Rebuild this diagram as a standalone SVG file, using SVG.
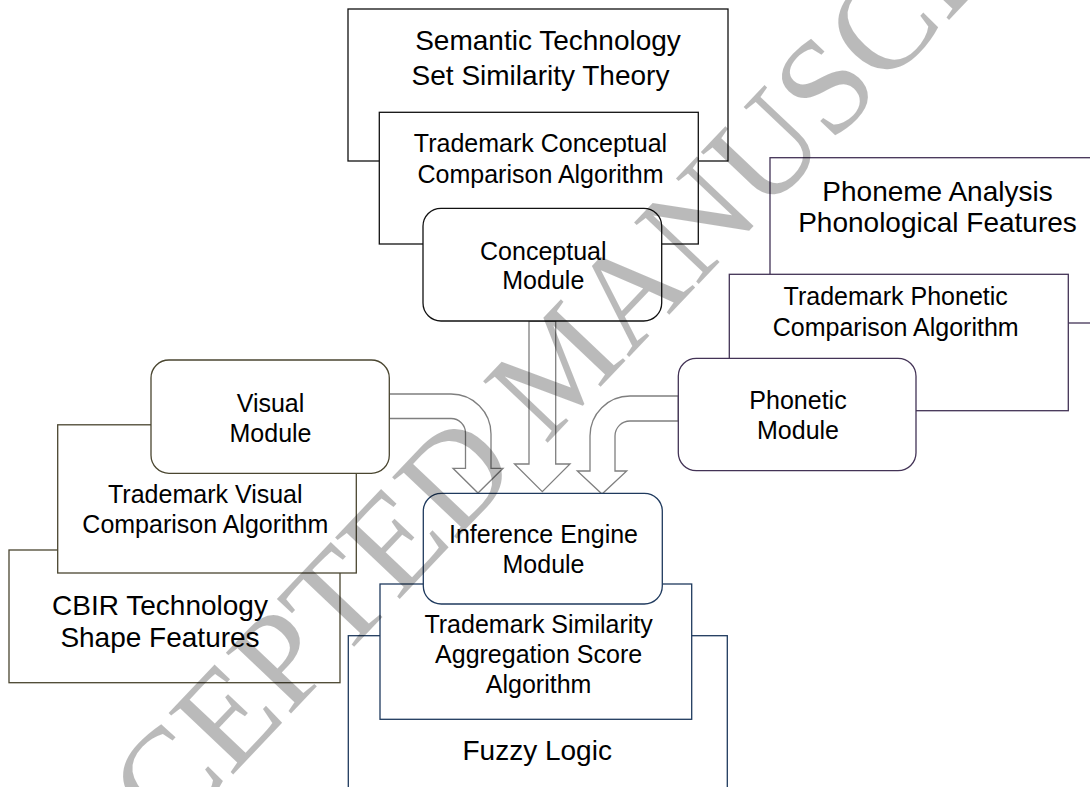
<svg xmlns="http://www.w3.org/2000/svg" width="1090" height="787" viewBox="0 0 1090 787">
<style>
text{font-family:"Liberation Sans",Arial,sans-serif;fill:#000;text-anchor:middle}
.t28{font-size:28px}
.t25{font-size:25px}
.box{fill:#fff;stroke-width:1.3}
.k{stroke:#111}
.v{stroke:#4a4630}
.p{stroke:#433356}
.n{stroke:#1f3a5e}
.arr{fill:#fff;stroke:#7f7f7f;stroke-width:1.3;stroke-linejoin:miter}
.wm{font-family:"Liberation Serif","Times New Roman",serif;font-size:136px;fill:#000;fill-opacity:0.27;text-anchor:start}
</style>
<rect width="1090" height="787" fill="#fff"/>
<g id="connectors">
<path class="arr" d="M529 321 L555.7 321 L555.7 464 L570 464 L542.3 491.7 L514.5 464 L529 464 Z"/>
<path class="arr" d="M389.3 394 L451 394 A40 40 0 0 1 491 434 L491 468.3 L503 468.3 L478 493 L453 468.3 L465.5 468.3 L465.5 433 A14.5 14.5 0 0 0 451 418.5 L389.3 418.5 Z"/>
<path class="arr" d="M678.3 396 L630 396 A40 40 0 0 0 590 436 L590 471 L577.3 471 L602 494 L626.7 471 L615 471 L615 436 A15 15 0 0 1 630 421 L678.3 421 Z"/>
</g>
<g id="semantic">
<rect class="box k" x="348" y="9" width="380" height="152"/>
<text class="t28" x="548" y="50">Semantic Technology</text>
<text class="t28" x="540.5" y="85">Set Similarity Theory</text>
</g>
<g id="tm-conceptual">
<rect class="box k" x="379.3" y="112.3" width="319" height="131.7"/>
<text class="t25" x="540.5" y="151.7">Trademark Conceptual</text>
<text class="t25" x="540.5" y="182.5">Comparison Algorithm</text>
</g>
<g id="conceptual-module">
<rect class="box k" x="423" y="208.3" width="238.7" height="112.7" rx="18"/>
<text class="t25" x="543.3" y="260">Conceptual</text>
<text class="t25" x="543.3" y="289.4">Module</text>
</g>
<g id="phoneme">
<rect class="box p" x="770" y="157.7" width="340" height="165.3"/>
<text class="t28" x="937.5" y="200.7">Phoneme Analysis</text>
<text class="t28" x="937.5" y="231.7">Phonological Features</text>
</g>
<g id="tm-phonetic">
<rect class="box p" x="729.3" y="274.3" width="339" height="136.4"/>
<text class="t25" x="895.7" y="305">Trademark Phonetic</text>
<text class="t25" x="895.7" y="336">Comparison Algorithm</text>
</g>
<g id="phonetic-module">
<rect class="box p" x="678.3" y="358.3" width="237.7" height="112.4" rx="18"/>
<text class="t25" x="798" y="409.3">Phonetic</text>
<text class="t25" x="798" y="439.3">Module</text>
</g>
<g id="cbir">
<rect class="box v" x="9" y="550" width="331" height="132.7"/>
<text class="t28" x="160" y="615">CBIR Technology</text>
<text class="t28" x="160" y="647.3">Shape Features</text>
</g>
<g id="tm-visual">
<rect class="box v" x="57.7" y="424.8" width="298.6" height="148.2"/>
<text class="t25" x="205.3" y="502.7">Trademark Visual</text>
<text class="t25" x="205.3" y="532.7">Comparison Algorithm</text>
</g>
<g id="visual-module">
<rect class="box v" x="151" y="360" width="238.3" height="113.3" rx="18"/>
<text class="t25" x="270.5" y="411.7">Visual</text>
<text class="t25" x="270.5" y="441.7">Module</text>
</g>
<g id="fuzzy">
<rect class="box n" x="348.3" y="635.7" width="379" height="200"/>
<text class="t28" x="537.2" y="760">Fuzzy Logic</text>
</g>
<g id="tm-similarity">
<rect class="box n" x="380" y="584" width="311.7" height="135.3"/>
<text class="t25" x="538.6" y="633.3">Trademark Similarity</text>
<text class="t25" x="538.6" y="663.3">Aggregation Score</text>
<text class="t25" x="538.6" y="693.3">Algorithm</text>
</g>
<g id="inference-module">
<rect class="box n" x="423.3" y="493.3" width="239" height="110.7" rx="18"/>
<text class="t25" x="543.5" y="543.3">Inference Engine</text>
<text class="t25" x="543.5" y="573.3">Module</text>
</g>
<g id="watermark">
<text class="wm" transform="translate(38 980) rotate(-46.5)">ACCEPTED MANUSCRIPT</text>
</g>
</svg>
